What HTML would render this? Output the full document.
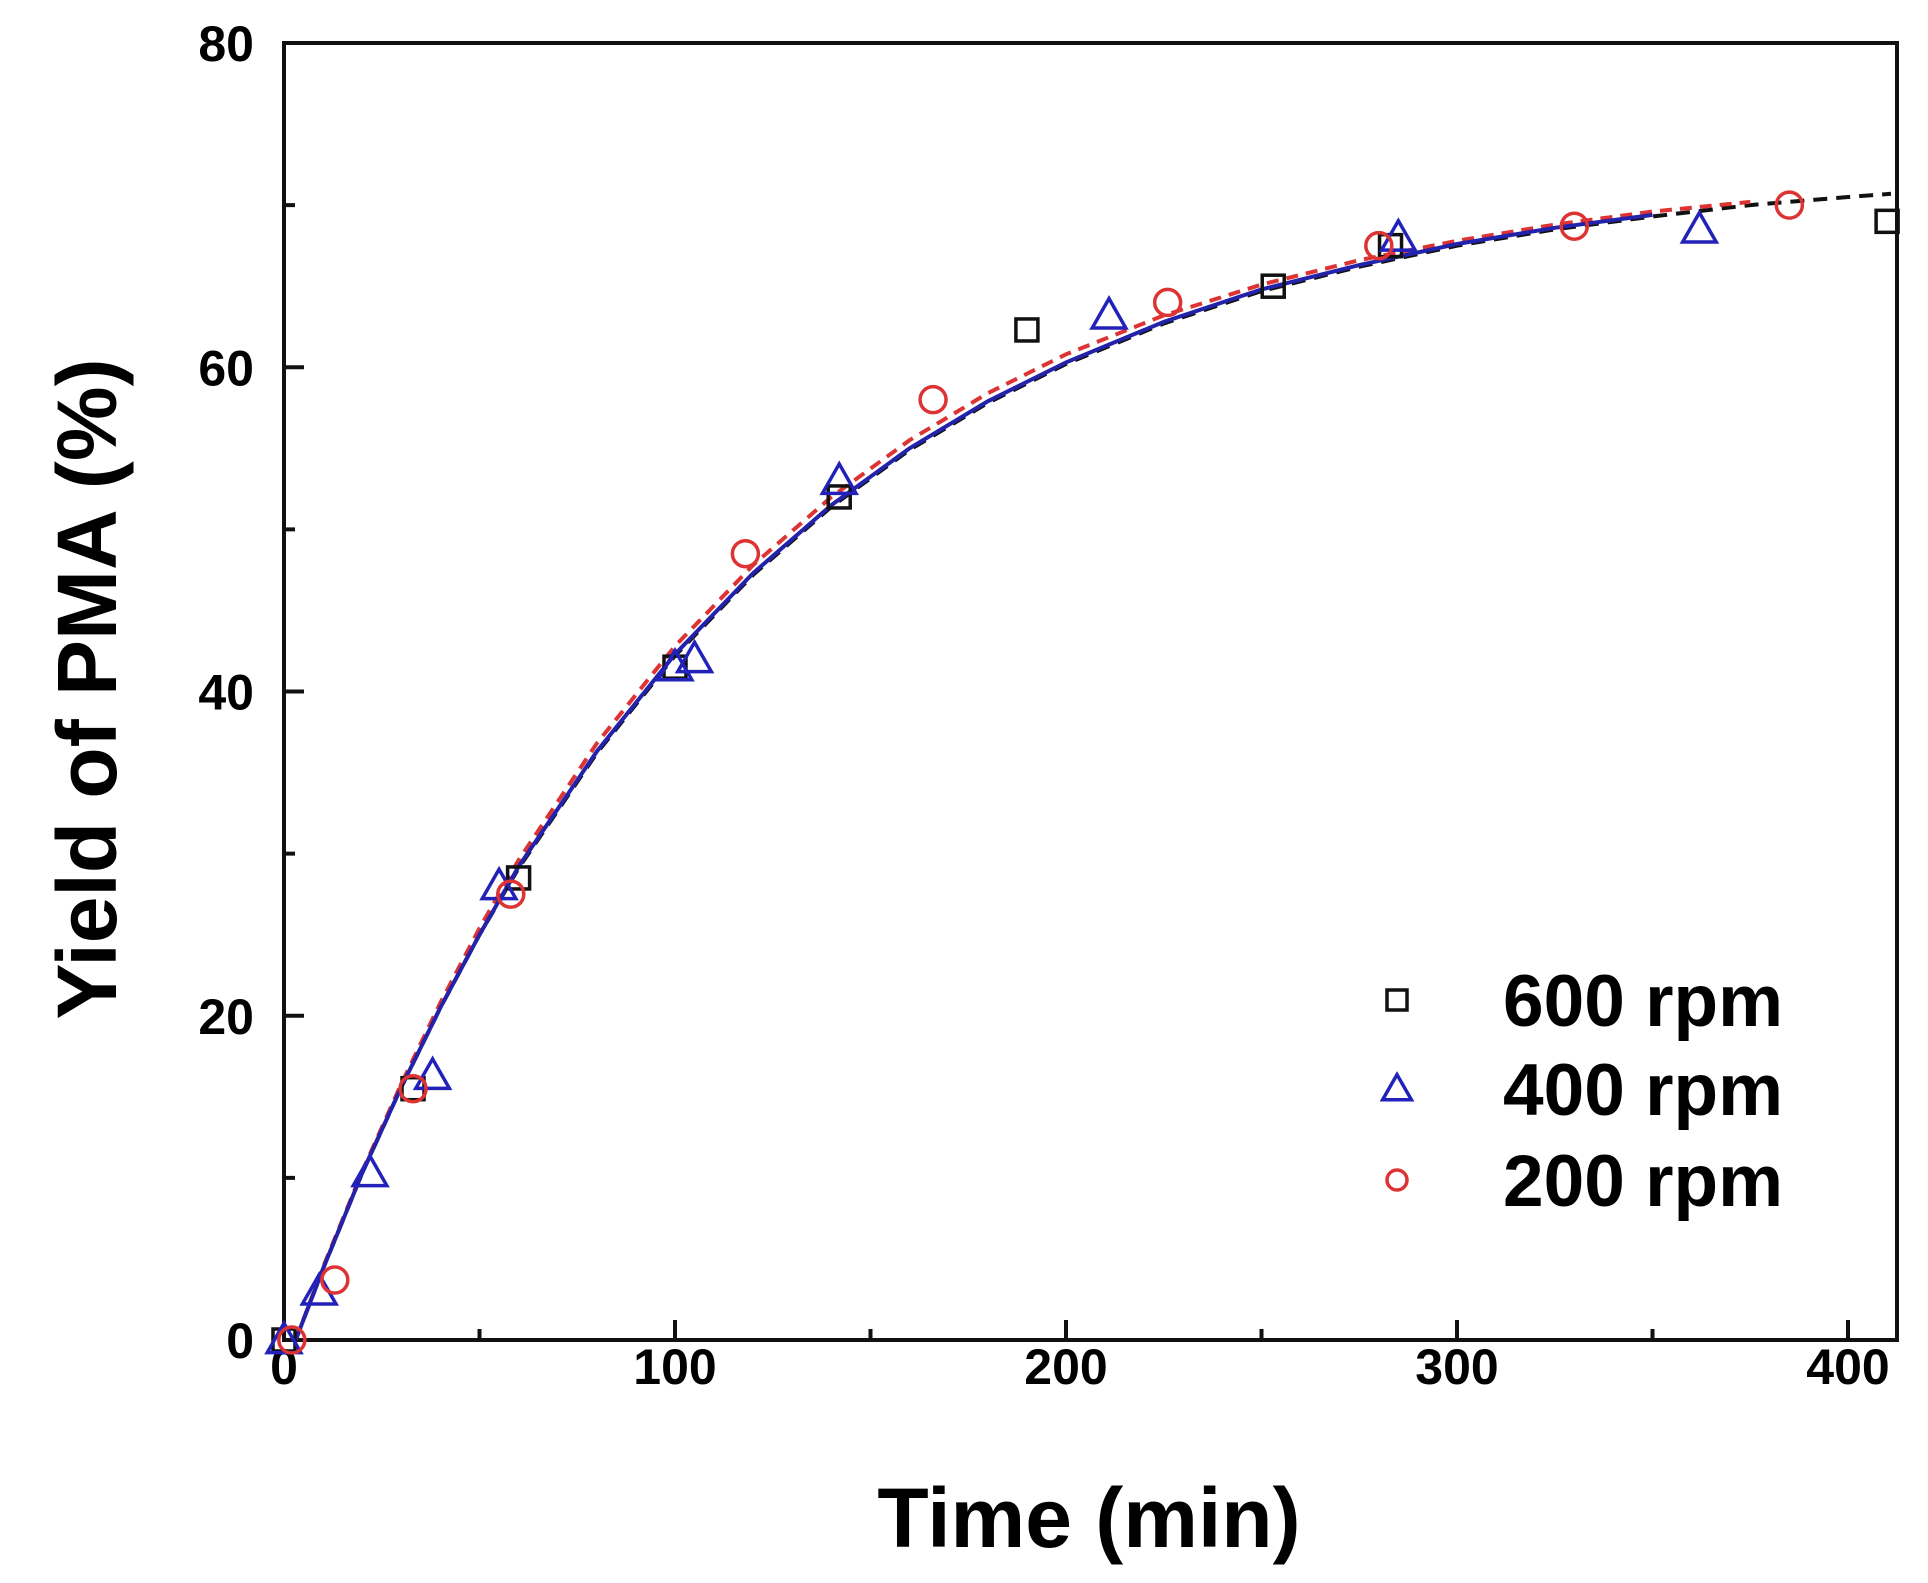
<!DOCTYPE html>
<html><head><meta charset="utf-8"><style>
html,body{margin:0;padding:0;background:#fff;}
svg{display:block;font-family:"Liberation Sans",Arial,sans-serif;font-weight:bold;}
</style></head><body>
<svg id="chart" width="1928" height="1583" viewBox="0 0 1928 1583" xmlns="http://www.w3.org/2000/svg">
<g id="axes"></g>
<g id="curves"></g>
<g id="marks"></g>
<g id="legend"></g>
<text x="1089" y="1547" font-size="84" text-anchor="middle">Time (min)</text>
<text transform="translate(116,689) rotate(-90)" font-size="84" text-anchor="middle">Yield of PMA (%)</text>
</svg>
<script>
const xTicks = [0, 100, 200, 300, 400];
const yTicks = [0, 20, 40, 60, 80];
const t600 = [0, 33, 60, 100, 142, 190, 253, 283, 410];
const y600 = [0, 15.5, 28.5, 41.5, 52, 62.3, 65, 67.5, 69];
const t400 = [0, 9, 22, 38, 55, 100, 105, 142, 211, 285, 362];
const y400 = [0, 3, 10.3, 16.3, 28, 41.5, 42, 53, 63.2, 68, 68.5];
const t200 = [2, 13, 33, 58, 118, 166, 226, 280, 330, 385];
const y200 = [0, 3.7, 15.5, 27.5, 48.5, 58, 64, 67.5, 68.7, 70];
const curveT = [3, 10, 20, 30, 40, 50, 60, 80, 100, 120, 140, 160, 180, 200, 225, 250, 275, 300, 325, 350, 375, 400, 411];
const curve600 = [0, 4.4, 10.3, 15.6, 20.5, 25.0, 29.1, 36.2, 42.2, 47.2, 51.4, 54.9, 57.8, 60.2, 62.7, 64.7, 66.2, 67.5, 68.5, 69.3, 70.0, 70.5, 70.7];
const curve400 = [0, 4.4, 10.3, 15.6, 20.5, 25.0, 29.2, 36.3, 42.3, 47.3, 51.5, 55.0, 57.9, 60.3, 62.8, 64.8, 66.3, 67.6, 68.6, 69.4, 70.0, 70.5, 70.7];
const curve200 = [0, 4.5, 10.4, 15.8, 20.8, 25.4, 29.6, 36.8, 42.8, 47.8, 52.0, 55.5, 58.4, 60.8, 63.2, 65.1, 66.6, 67.8, 68.8, 69.6, 70.2, 70.6, 70.8];

const X0 = 284, XPX = 3.91, Y0 = 1340, YPX = (1340 - 43) / 80;
const sx = v => X0 + v * XPX;
const sy = v => Y0 - v * YPX;
const NS = "http://www.w3.org/2000/svg";
function mk(tag, parent, attrs) { const e = document.createElementNS(NS, tag); for (const k in attrs) e.setAttribute(k, attrs[k]); parent.appendChild(e); return e; }

const axes = document.getElementById('axes');
const frame = mk('rect', axes, {x: 284, y: 43, width: 1613, height: 1297, fill: 'none', stroke: '#111', 'stroke-width': 4});


xTicks.forEach(v => {
  const l = mk('line', axes, {x1: sx(v), x2: sx(v), y1: Y0, y2: Y0 - 20, stroke: '#111', 'stroke-width': 4});
  
  
  const m = mk('line', axes, {x1: sx(v + 50), x2: sx(v + 50), y1: Y0, y2: Y0 - 11, stroke: '#111', 'stroke-width': 4});
  
  
  const t = mk('text', axes, {x: sx(v), y: 1384, 'font-size': 50, 'text-anchor': 'middle'});
  t.textContent = v;
  
  
});
yTicks.forEach(v => {
  const l = mk('line', axes, {x1: X0, x2: X0 + 20, y1: sy(v), y2: sy(v), stroke: '#111', 'stroke-width': 4});
  
  
  if (v < 80) {
    const m = mk('line', axes, {x1: X0, x2: X0 + 11, y1: sy(v + 10), y2: sy(v + 10), stroke: '#111', 'stroke-width': 4});
    
    
  }
  const t = mk('text', axes, {x: 254, y: sy(v) + 18, 'font-size': 50, 'text-anchor': 'end'});
  t.textContent = v;
  
  
});

const curves = document.getElementById('curves');
function curve(vals, maxT, color, dash, name) {
  let d = '';
  curveT.forEach((t, i) => { if (t <= maxT) d += (d ? 'L' : 'M') + sx(t).toFixed(1) + ',' + sy(vals[i]).toFixed(1); });
  const p = mk('path', curves, {d: d, fill: 'none', stroke: color, 'stroke-width': 4});
  if (dash) p.setAttribute('stroke-dasharray', dash);
  
  
}
curve(curve600, 411, '#111', '14,9', 'fit-600rpm');
curve(curve200, 385, '#d33', '12,8', 'fit-200rpm');
curve(curve400, 362, '#2222aa', null, 'fit-400rpm');

const marks = document.getElementById('marks');
function square(g, x, y, s) { return mk('rect', g, {x: x - s / 2, y: y - s / 2, width: s, height: s, fill: 'none', stroke: '#111', 'stroke-width': 3.5}); }
function tri(g, x, y, s) { return mk('polygon', g, {points: `${x},${y - s * 0.6} ${x - s * 0.6},${y + s * 0.45} ${x + s * 0.6},${y + s * 0.45}`, fill: 'none', stroke: '#2222bb', 'stroke-width': 3.5}); }
function circ(g, x, y, s) { return mk('circle', g, {cx: x, cy: y, r: s / 2, fill: 'none', stroke: '#d33', 'stroke-width': 3.5}); }
t600.forEach((t, i) => { const e = square(marks, sx(t), sy(y600[i]), 22);
  
   });
t400.forEach((t, i) => { const e = tri(marks, sx(t), sy(y400[i]), 28);
  
   });
t200.forEach((t, i) => { const e = circ(marks, sx(t), sy(y200[i]), 26);
  
   });

const legend = document.getElementById('legend');
const legLabels = ['600 rpm', '400 rpm', '200 rpm'];
const legY = [1000, 1089, 1180];
const legFns = [square, tri, circ];
legLabels.forEach((lab, i) => {
  const m = legFns[i](legend, 1397, legY[i], i === 1 ? 24 : 20);
  
  
  const t = mk('text', legend, {x: 1503, y: legY[i] + 26, 'font-size': 73});
  t.textContent = lab;
  
  
});
</script>
</body></html>
